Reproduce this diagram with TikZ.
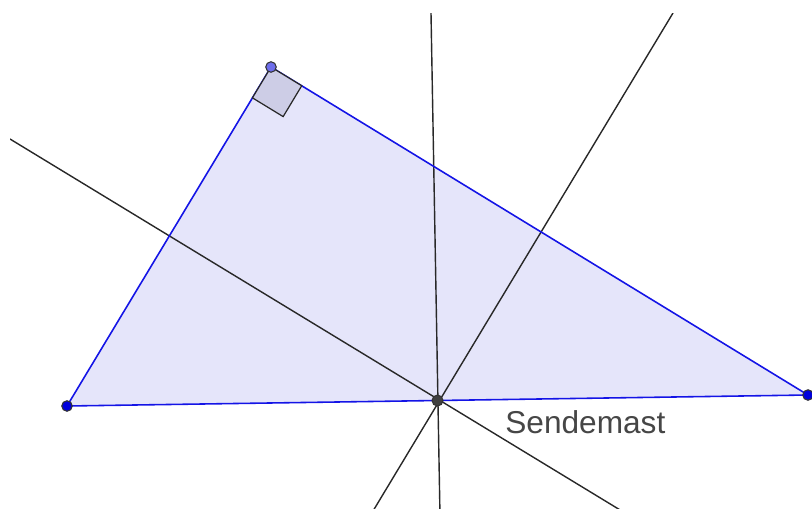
\documentclass[tikz,border=0pt]{standalone}
\usepackage{fontspec}
\setsansfont{Liberation Sans}
\usetikzlibrary{calc}
\definecolor{fillblue}{RGB}{229,229,250}
\definecolor{edgeblue}{RGB}{20,20,230}
\definecolor{ptblue}{RGB}{0,0,220}
\definecolor{ptlight}{RGB}{110,110,235}
\definecolor{linegray}{RGB}{40,40,40}
\definecolor{textgray}{RGB}{70,70,70}
\definecolor{anglefill}{RGB}{205,205,230}

\tikzset{
  bisector/.style={linegray,line width=.8pt},
  side/.style={edgeblue,line width=.9pt},
  vertexpt/.style={circle,draw=black!80,line width=.6pt,inner sep=0pt,minimum size=.21cm}
}

\begin{document}
\begin{tikzpicture}[x=.02cm,y=-.02cm]
  \useasboundingbox (0,0) rectangle (812,508);
  % triangle corners and the mast
  \coordinate (A) at (67,406);
  \coordinate (B) at (271,67);
  \coordinate (C) at (808,395);
  \coordinate (M) at ($(A)!.5!(C)$);
  % ends of the bisectors
  \coordinate (ab1) at (10,139);  \coordinate (ab2) at (630,516);
  \coordinate (bc1) at (673,13);  \coordinate (bc2) at (370,516);
  \coordinate (ac1) at (431,13);  \coordinate (ac2) at (440,516);

  \fill[fillblue] (A) -- (B) -- (C) -- cycle;
  \begin{scope}
    \clip (10,13) rectangle (812,508);
    \draw[bisector] (ab1) -- (ab2);
    \draw[bisector] (bc1) -- (bc2);
    \draw[bisector] (ac1) -- (ac2);
  \end{scope}
  \draw[side] (A) -- (B) -- (C) -- cycle;

  % right angle at B
  \coordinate (ra1) at ($(B)!.72cm!(A)$);
  \coordinate (ra2) at ($(B)!.72cm!(C)$);
  \draw[fill=anglefill,draw=linegray,line width=.7pt] (B) -- (ra1) -- ($(ra1)+(ra2)-(B)$) -- (ra2) -- cycle;

  \node[vertexpt,fill=ptblue] (ptA) at (A) {};
  \node[vertexpt,fill=ptlight] (ptB) at (B) {};
  \node[vertexpt,fill=ptblue] (ptC) at (C) {};
  \node[vertexpt,fill=black!75,minimum size=.22cm] (mast) at (M) {};
  \node[anchor=base west,inner sep=0pt,text=textgray,font=\sffamily\fontsize{18}{20}\selectfont] (mastlabel) at (505,433) {Sendemast};
\end{tikzpicture}
\end{document}
